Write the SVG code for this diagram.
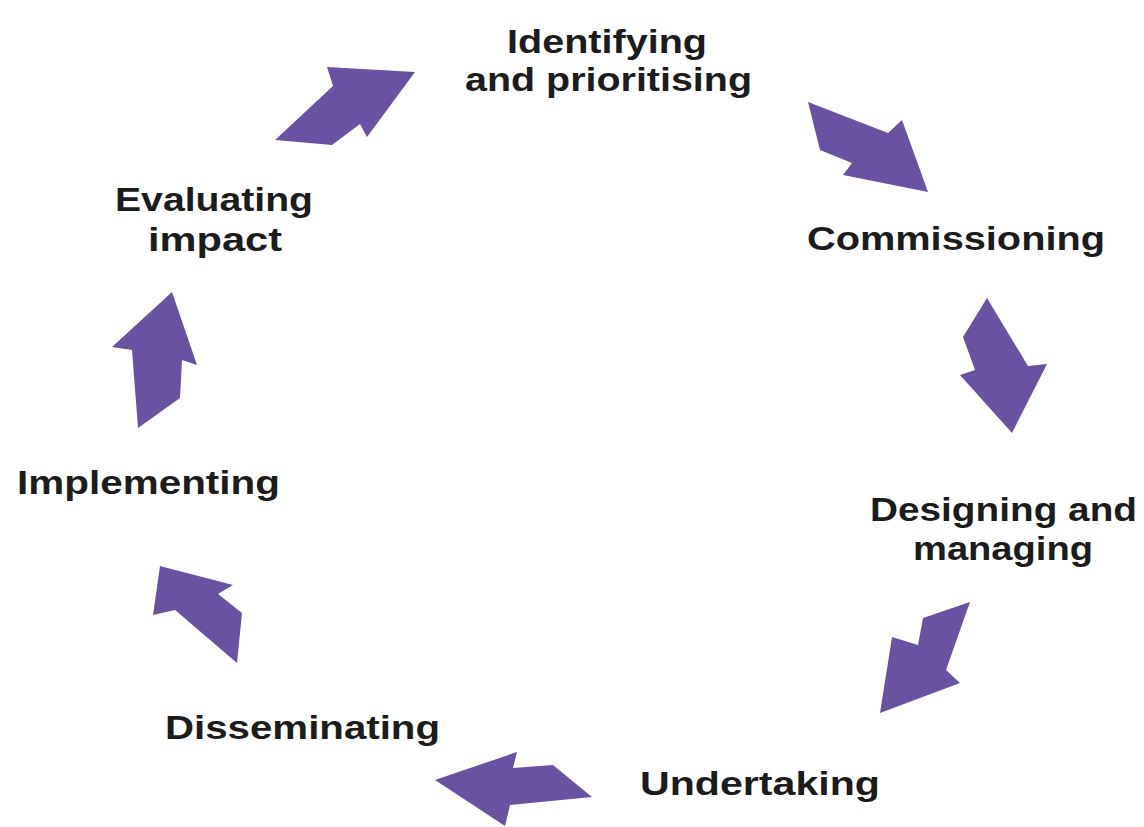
<svg xmlns="http://www.w3.org/2000/svg" width="1144" height="827" viewBox="0 0 1144 827">
<style>
.lbl{font-family:"Liberation Sans",Arial,sans-serif;font-weight:bold;font-size:34px;fill:#1c1c1c}
.arr{fill:#6a52a3}
</style>
<rect width="1144" height="827" fill="#ffffff"/>
<g id="node-identifying"><text class="lbl" x="507" y="53" textLength="200" lengthAdjust="spacingAndGlyphs">Identifying</text><text class="lbl" x="465" y="91" textLength="287" lengthAdjust="spacingAndGlyphs">and prioritising</text></g>
<g id="node-commissioning"><text class="lbl" x="807" y="250" textLength="298" lengthAdjust="spacingAndGlyphs">Commissioning</text></g>
<g id="node-designing"><text class="lbl" x="870" y="521" textLength="267" lengthAdjust="spacingAndGlyphs">Designing and</text><text class="lbl" x="913" y="560" textLength="180" lengthAdjust="spacingAndGlyphs">managing</text></g>
<g id="node-undertaking"><text class="lbl" x="640" y="795" textLength="240" lengthAdjust="spacingAndGlyphs">Undertaking</text></g>
<g id="node-disseminating"><text class="lbl" x="165" y="739" textLength="275" lengthAdjust="spacingAndGlyphs">Disseminating</text></g>
<g id="node-implementing"><text class="lbl" x="17" y="494" textLength="263" lengthAdjust="spacingAndGlyphs">Implementing</text></g>
<g id="node-evaluating"><text class="lbl" x="115" y="211" textLength="198" lengthAdjust="spacingAndGlyphs">Evaluating</text><text class="lbl" x="148" y="251" textLength="134" lengthAdjust="spacingAndGlyphs">impact</text></g>
<g id="connectors">
<polygon class="arr" points="275,140 333,86 327,67 415,72 367,137 360,124 332,145"/>
<polygon class="arr" points="808,102 888,133 902,120 928,192 843,175 852,163 820,150"/>
<polygon class="arr" points="987,298 1028,366 1047,364 1012,433 960,375 975,370 963,337"/>
<polygon class="arr" points="970,602 923,618 918,645 892,637 880,713 960,683 946,670"/>
<polygon class="arr" points="435,780 517,752 513,768 553,765 592,797 510,805 505,826"/>
<polygon class="arr" points="160,566 233,585 218,594 242,613 237,663 175,610 153,615"/>
<polygon class="arr" points="172,292 197,365 182,360 180,398 138,428 132,350 112,347"/>
</g>
</svg>
